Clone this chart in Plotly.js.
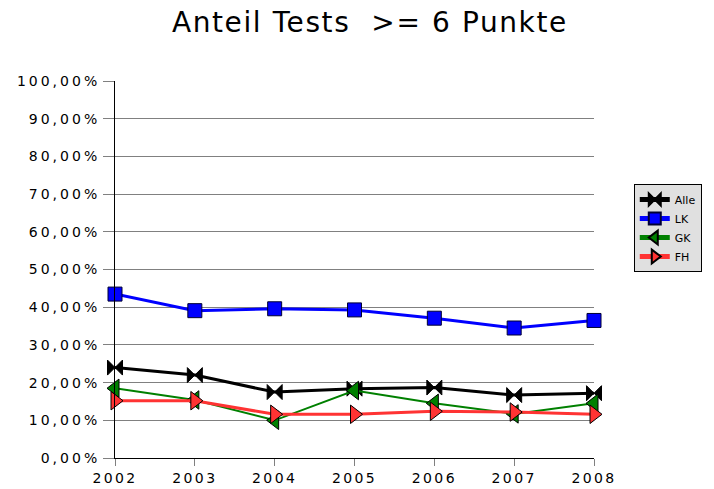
<!DOCTYPE html>
<html>
<head>
<meta charset="utf-8">
<script src="https://cdn.plot.ly/plotly-3.0.1.min.js"></script>
<style>
html,body{margin:0;padding:0;background:#fff;}
#chart{width:714px;height:489px;}
.xtick text {letter-spacing:2.4px;}
.ytick text {letter-spacing:3px;}
.gtitle {letter-spacing:1.6px;}
</style>
</head>
<body>
<div id="chart"></div>
<script>
const years = [2002, 2003, 2004, 2005, 2006, 2007, 2008];
const alle = [0.240, 0.220, 0.175, 0.184, 0.187, 0.167, 0.172];
const lk   = [0.435, 0.391, 0.396, 0.393, 0.371, 0.345, 0.365];
const gk   = [0.185, 0.154, 0.100, 0.179, 0.145, 0.117, 0.145];
const fh   = [0.152, 0.152, 0.116, 0.116, 0.124, 0.122, 0.116];
const seriesNames = ['Alle', 'LK', 'GK', 'FH'];
const yTicks = [0, 0.1, 0.2, 0.3, 0.4, 0.5, 0.6, 0.7, 0.8, 0.9, 1.0];

const traces = [
  {x: years, y: alle, name: seriesNames[0], mode: 'lines+markers',
   line: {color: '#000000', width: 3},
   marker: {symbol: 'bowtie', size: 15, color: '#000000', line: {color: '#000000', width: 1}}},
  {x: years, y: lk, name: seriesNames[1], mode: 'lines+markers',
   line: {color: '#0000ff', width: 3},
   marker: {symbol: 'square', size: 14, color: '#0000ff', line: {color: '#000033', width: 1}}},
  {x: years, y: gk, name: seriesNames[2], mode: 'lines+markers',
   line: {color: '#008000', width: 2},
   marker: {symbol: 'triangle-left', size: 16, color: '#008000', line: {color: '#000000', width: 1}}},
  {x: years, y: fh, name: seriesNames[3], mode: 'lines+markers',
   line: {color: '#ff3333', width: 3},
   marker: {symbol: 'triangle-right', size: 16, color: '#ff3333', line: {color: '#000000', width: 1}}}
];
traces.forEach(t => { t.cliponaxis = false; });

const layout = {
  width: 714, height: 489,
  margin: {l: 115, r: 120, t: 81, b: 31},
  paper_bgcolor: '#ffffff', plot_bgcolor: '#ffffff',
  separators: ',.',
  font: {family: 'DejaVu Sans, sans-serif', color: '#000000', size: 13},
  title: {text: 'Anteil Tests \u00a0>= 6 Punkte', x: 0.518, xanchor: 'center', y: 0.955, yanchor: 'middle',
          font: {family: 'DejaVu Sans, sans-serif', size: 28, color: '#000000'}},
  xaxis: {range: [2002, 2008], tickvals: years, ticktext: years.map(String),
          showgrid: false, zeroline: false, showline: true, linecolor: '#000000', linewidth: 1,
          ticks: 'outside', ticklen: 7, tickcolor: '#808080',
          tickfont: {size: 14, family: 'DejaVu Sans, sans-serif'}},
  yaxis: {range: [0, 1.0005], tickvals: yTicks, tickformat: '.2%',
          showgrid: true, gridcolor: '#808080', gridwidth: 1, zeroline: false,
          showline: true, linecolor: '#000000', linewidth: 1,
          ticks: 'outside', ticklen: 11, tickcolor: '#808080',
          tickfont: {size: 14, family: 'DejaVu Sans, sans-serif'}},
  legend: {x: 1.225, xanchor: 'right', y: 0.61, yanchor: 'middle',
           bgcolor: '#e0e0e0', bordercolor: '#000000', borderwidth: 1, itemsizing: 'constant',
           font: {size: 11, family: 'DejaVu Sans, sans-serif'}, itemwidth: 30, tracegroupgap: 0},
  showlegend: true
};
Plotly.newPlot('chart', traces, layout, {displayModeBar: false, staticPlot: true});
</script>
</body>
</html>
